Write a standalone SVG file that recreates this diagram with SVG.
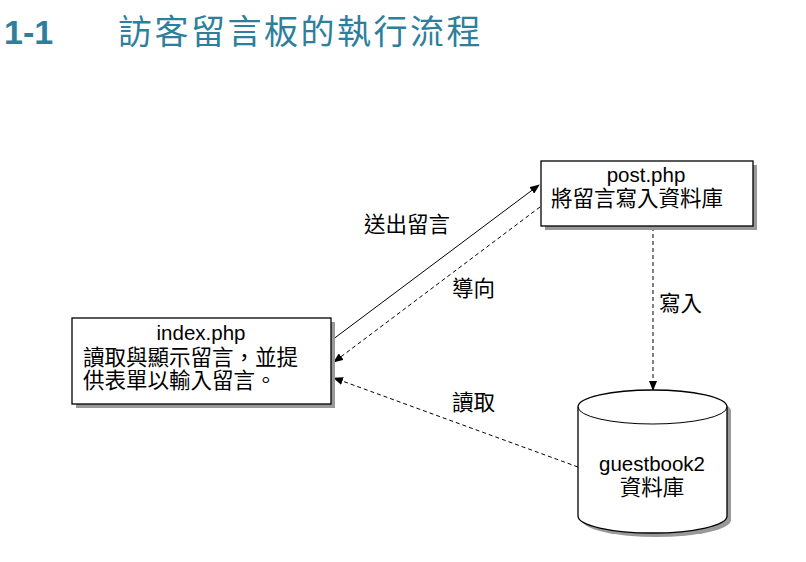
<svg xmlns="http://www.w3.org/2000/svg" width="806" height="562" viewBox="0 0 806 562">
<style>
.box{fill:#fff;stroke:#000;stroke-width:1.3}
.shadow{fill:#999}
.t{font-family:"Liberation Sans","Noto Sans CJK TC",sans-serif;font-size:20.5px;fill:#000}
.c{font-family:"Noto Sans CJK TC","Liberation Sans",sans-serif;font-size:21.5px;fill:#000}
.ln{stroke:#000;stroke-width:1;fill:none}
.dash{stroke-dasharray:4 3}
</style>
<defs>
<marker id="ah" markerWidth="10" markerHeight="8" refX="9" refY="4" orient="auto" markerUnits="userSpaceOnUse">
<path d="M0,0 L10,4 L0,8 Z" fill="#000"/>
</marker>
</defs>
<rect width="806" height="562" fill="#fff"/>
<g id="title">
<text x="4" y="44" font-family="Liberation Sans,sans-serif" font-weight="bold" font-size="34" fill="#2E7F9B">1-1</text>
<text x="118" y="44" font-family="Noto Sans CJK TC,sans-serif" font-size="34" letter-spacing="2.5" fill="#2E7F9B">訪客留言板的執行流程</text>
</g>
<g id="connectors">
<line class="ln" x1="332" y1="340" x2="539" y2="185" marker-end="url(#ah)"/>
<line class="ln dash" x1="540" y1="207" x2="334" y2="362" marker-end="url(#ah)"/>
<line class="ln dash" x1="578" y1="467" x2="334" y2="378" marker-end="url(#ah)"/>
<line class="ln dash" x1="653" y1="227" x2="653" y2="390" marker-end="url(#ah)"/>
<text class="c" x="364" y="232">送出留言</text>
<text class="c" x="452" y="296">導向</text>
<text class="c" x="452" y="410">讀取</text>
<text class="c" x="659" y="311">寫入</text>
</g>
<g id="index">
<rect class="shadow" x="76" y="322" width="259" height="86"/>
<rect class="box" x="72" y="318" width="259" height="86"/>
<text class="t" x="201" y="340" text-anchor="middle">index.php</text>
<text class="c" x="83" y="365">讀取與顯示留言，並提</text>
<text class="c" x="83" y="388">供表單以輸入留言。</text>
</g>
<g id="post">
<rect class="shadow" x="545" y="165" width="212" height="65"/>
<rect class="box" x="541" y="161" width="212" height="65"/>
<text class="t" x="646" y="182" text-anchor="middle">post.php</text>
<text class="c" x="551" y="206">將留言寫入資料庫</text>
</g>
<g id="guestbook2">
<path class="shadow" d="M582,411 A74.5,17 0 0 1 731,411 L731,520 A74.5,17 0 0 1 582,520 Z"/>
<path class="box" d="M578,407 A74.5,17 0 0 1 727,407 L727,516 A74.5,17 0 0 1 578,516 Z"/>
<path class="ln" d="M578,407 A74.5,17 0 0 0 727,407"/>
<text class="t" x="652" y="471" text-anchor="middle">guestbook2</text>
<text class="c" x="652" y="495" text-anchor="middle">資料庫</text>
</g>
</svg>
